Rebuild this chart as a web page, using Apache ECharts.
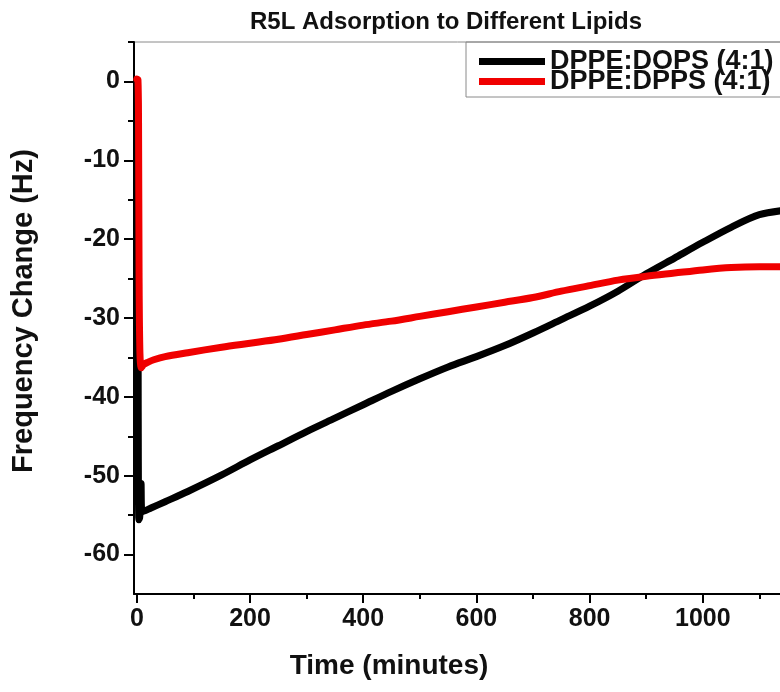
<!DOCTYPE html>
<html>
<head>
<meta charset="utf-8">
<script src="https://cdn.jsdelivr.net/npm/echarts@6/dist/echarts.min.js"></script>
<style>
  html, body { margin: 0; padding: 0; background: #fff; }
  #chart { width: 780px; height: 692px; }
</style>
</head>
<body>
<div id="chart"></div>
<script>
// QCM frequency shift of R5L peptide binding to two lipid films
const seriesNames = ['DPPE:DOPS (4:1)', 'DPPE:DPPS (4:1)'];

// time (minutes) / frequency change (Hz), DPPE:DOPS film
const dopsTime = [0, 1.5, 2.5, 3.5, 5, 6.5, 7.5, 9, 25, 50, 90, 150, 200, 250, 300, 350, 400, 450,
  500, 550, 600, 650, 700, 750, 800, 850, 900, 950, 1000, 1050, 1100, 1150];
const dopsFreq = [0.2, -3, -42, -55.6, -55.3, -53.8, -51.0, -54.6, -54.1, -53.3, -52.0, -49.9, -48.0,
  -46.2, -44.4, -42.7, -41.0, -39.3, -37.7, -36.2, -34.9, -33.5, -31.9, -30.2, -28.5, -26.6, -24.4,
  -22.4, -20.4, -18.5, -16.9, -16.3];

// time (minutes) / frequency change (Hz), DPPE:DPPS film
const dppsTime = [0, 2, 3, 4, 5.5, 8, 12, 20, 30, 50, 90, 150, 200, 250, 300, 350, 400, 450, 500,
  550, 600, 650, 700, 750, 800, 850, 900, 950, 1000, 1050, 1100, 1150];
const dppsFreq = [0.3, 0.2, -5, -25, -34.5, -36.3, -35.9, -35.6, -35.3, -34.9, -34.4, -33.7, -33.2,
  -32.7, -32.1, -31.5, -30.9, -30.4, -29.8, -29.2, -28.6, -28.0, -27.4, -26.6, -25.9, -25.2, -24.7,
  -24.3, -23.9, -23.6, -23.5, -23.5];

// axis ticks
const xMajorTicks = [0, 200, 400, 600, 800, 1000, 1200];
const xMinorTicks = [100, 300, 500, 700, 900, 1100];
const yMajorTicks = [0, -10, -20, -30, -40, -50, -60];
const yMinorTicks = [5, -5, -15, -25, -35, -45, -55];

const FONT = "'Liberation Sans', Arial, sans-serif";
const pairs = (xs, ys) => xs.map((x, i) => [x, ys[i]]);

const xRange = { min: -5, max: 1200 };
const yRange = { min: -65, max: 5 };

const chart = echarts.init(document.getElementById('chart'), null, { renderer: 'canvas' });

chart.setOption({
  animation: false,
  backgroundColor: '#ffffff',
  title: [
    {
      text: 'R5L Adsorption to Different Lipids',
      left: 441, top: 5, textAlign: 'center',
      textStyle: { fontFamily: FONT, fontWeight: 'bold', fontSize: 24, color: '#111' }
    },
    {
      text: 'Time (minutes)',
      left: 384, top: 647, textAlign: 'center',
      textStyle: { fontFamily: FONT, fontWeight: 'bold', fontSize: 28, color: '#111' }
    }
  ],
  legend: {
    data: seriesNames,
    orient: 'vertical',
    left: 466, top: 42,
    padding: [6, 40, 2, 13],
    itemGap: -7,
    itemWidth: 66, itemHeight: 20,
    icon: 'path://M0,0H66V7H0Z',
    borderColor: '#8a8a8a', borderWidth: 1,
    textStyle: { fontFamily: FONT, fontWeight: 'bold', fontSize: 27, color: '#111' }
  },
  grid: {
    left: 134, top: 42, height: 552, width: 682,
    outerBoundsMode: 'none', containLabel: false,
    show: true, borderColor: '#8a8a8a', borderWidth: 1
  },
  xAxis: [
    {
      type: 'value', min: xRange.min, max: xRange.max,
      axisLine: { show: true, onZero: false, lineStyle: { color: '#000', width: 2 } },
      axisTick: { show: true, customValues: xMajorTicks, length: 9, lineStyle: { color: '#000', width: 2 } },
      axisLabel: {
        customValues: xMajorTicks, margin: 13, formatter: v => String(v),
        fontFamily: FONT, fontWeight: 'bold', fontSize: 25, color: '#111'
      },
      splitLine: { show: false }
    },
    {
      type: 'value', min: xRange.min, max: xRange.max, position: 'bottom',
      axisLine: { show: false, onZero: false },
      axisTick: { show: true, customValues: xMinorTicks, length: 5, lineStyle: { color: '#000', width: 2 } },
      axisLabel: { show: false },
      splitLine: { show: false }
    }
  ],
  yAxis: [
    {
      type: 'value', min: yRange.min, max: yRange.max,
      name: 'Frequency Change (Hz)',
      nameLocation: 'middle', nameGap: 96, nameRotate: 90,
      nameTextStyle: { fontFamily: FONT, fontWeight: 'bold', fontSize: 29, color: '#111', padding: [0, 0, 0, 14] },
      axisLine: { show: true, onZero: false, lineStyle: { color: '#000', width: 2 } },
      axisTick: { show: true, customValues: yMajorTicks, length: 10, lineStyle: { color: '#000', width: 2 } },
      axisLabel: {
        customValues: yMajorTicks, margin: 14, formatter: v => String(v),
        fontFamily: FONT, fontWeight: 'bold', fontSize: 25, color: '#111'
      },
      splitLine: { show: false }
    },
    {
      type: 'value', min: yRange.min, max: yRange.max, position: 'left',
      axisLine: { show: false, onZero: false },
      axisTick: { show: true, customValues: yMinorTicks, length: 6, lineStyle: { color: '#000', width: 2 } },
      axisLabel: { show: false },
      splitLine: { show: false }
    }
  ],
  series: [
    {
      name: seriesNames[0], type: 'line', data: pairs(dopsTime, dopsFreq),
      xAxisIndex: 0, yAxisIndex: 0,
      showSymbol: false, symbol: 'none', smooth: 0.3,
      color: '#000000',
      lineStyle: { color: '#000000', width: 7, join: 'round', cap: 'round' },
      z: 2
    },
    {
      name: seriesNames[1], type: 'line', data: pairs(dppsTime, dppsFreq),
      xAxisIndex: 0, yAxisIndex: 0,
      showSymbol: false, symbol: 'none', smooth: 0.3,
      color: '#f00000',
      lineStyle: { color: '#f00000', width: 7, join: 'round', cap: 'round' },
      z: 3
    }
  ]
});
</script>
</body>
</html>
